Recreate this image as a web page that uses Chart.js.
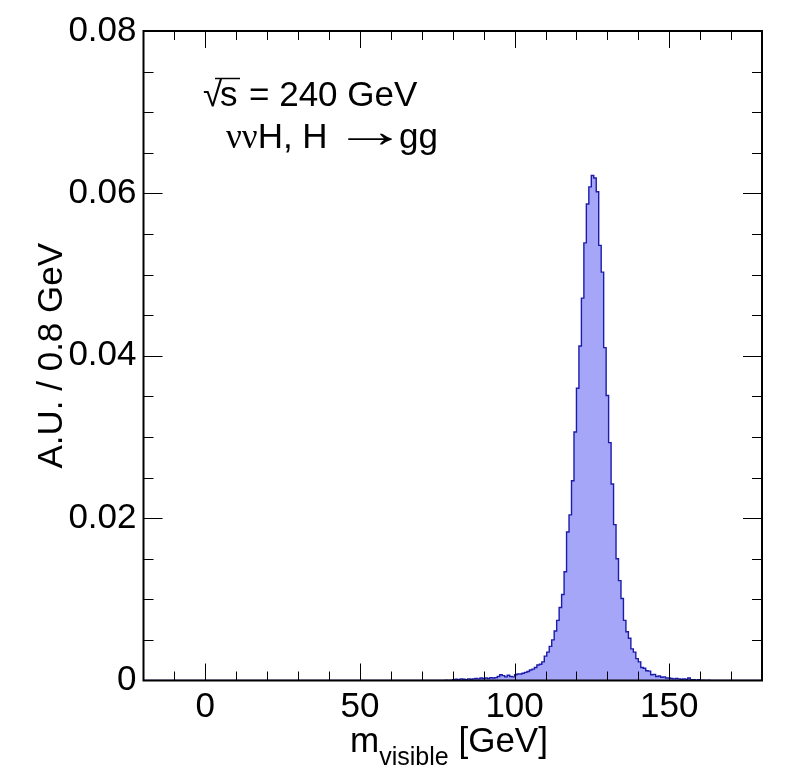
<!DOCTYPE html>
<html lang="en">
<head>
  <meta charset="UTF-8" />
  <title>m_visible - vvH, H to gg</title>
  <script src="https://cdn.jsdelivr.net/npm/chart.js"></script>
  <style>
    html, body { margin: 0; padding: 0; background: #fff; }
    #wrap { width: 798px; height: 774px; }
  </style>
</head>
<body>
  <div id="wrap"><canvas id="massChart" width="798" height="774"></canvas></div>

  <script>
    // axis ranges and ticks
    const xRange = [-20, 180];
    const yRange = [0, 0.08];
    const xTickValues = [0, 50, 100, 150];
    const xTickLabels = ["0", "50", "100", "150"];
    const yTickValues = [0, 0.02, 0.04, 0.06, 0.08];
    const yTickLabels = ["0", "0.02", "0.04", "0.06", "0.08"];

    // histogram: 0.8 GeV bins, first listed bin starts at 76.0 (empty below)
    const binWidth = 0.8;
    const firstBinLow = 76.0;
    const binContents = [
      0, 0, 0.00005, 0, 0.00005, 0.0001, 0.00015, 0.0001, 0.0002, 0.00015,           // 76.0 - 83.2
      0.0001, 0.0002, 0.00015, 0.0002, 0.00025, 0.0002, 0.0003, 0.00025, 0.0003, 0.00025, // 84.0 - 91.2
      0.00035, 0.0003, 0.00035, 0.0005, 0.0007, 0.0006, 0.00045, 0.00065, 0.0005, 0.00045, // 92.0 - 99.2
      0.0007, 0.0008, 0.0008, 0.0009, 0.0010, 0.0011, 0.0013, 0.0014, 0.0016, 0.0019, // 100.0 - 107.2
      0.0020, 0.0023, 0.0030, 0.0035, 0.0042, 0.0050, 0.0061, 0.0074, 0.0090, 0.0106, // 108.0 - 115.2
      0.0134, 0.0183, 0.0204, 0.0246, 0.0306, 0.0360, 0.0412, 0.0471, 0.0539, 0.0587, // 116.0 - 123.2
      0.0608, 0.0622, 0.0619, 0.0602, 0.0536, 0.0503, 0.0410, 0.0351, 0.0293, 0.0242, // 124.0 - 131.2
      0.0192, 0.0150, 0.0123, 0.0101, 0.0074, 0.0060, 0.0052, 0.0039, 0.0035, 0.0027, // 132.0 - 139.2
      0.0023, 0.0016, 0.0015, 0.0012, 0.00115, 0.0007, 0.00075, 0.0005, 0.00055, 0.0004, // 140.0 - 147.2
      0.00045, 0.0003, 0.0003, 0.00025, 0.0002, 0.00025, 0.0002, 0.00015, 0.0002, 0.00015, // 148.0 - 155.2
      0.0003, 0.0001, 0.0001, 0.00005, 0.0001, 0.00005, 0.00005, 0, 0.00005, 0,     // 156.0 - 163.2
      0                                                                              // 164.0
    ];

    const FONT = '"Liberation Sans", Arial, Helvetica, sans-serif';
    const SERIF = '"Liberation Serif", "Times New Roman", serif';

    // step points at each bin's low edge
    const histPoints = [{ x: xRange[0], y: 0 }];
    binContents.forEach((v, i) => {
      histPoints.push({ x: firstBinLow + i * binWidth, y: v });
    });
    histPoints.push({ x: xRange[1], y: 0 });

    // ROOT-like frame with inward ticks on all four sides, plus titles and labels
    const rootFrame = {
      id: "rootFrame",
      afterDatasetsDraw(chart) {
        const { ctx, chartArea: a, scales: { x, y } } = chart;
        ctx.save();
        ctx.strokeStyle = "#000";
        ctx.lineWidth = 1;
        ctx.beginPath();
        for (let v = xRange[0] + 10; v < xRange[1]; v += 10) {
          const px = Math.round(x.getPixelForValue(v)) + 0.5;
          const len = xTickValues.includes(v) ? 17 : 9;
          ctx.moveTo(px, a.bottom); ctx.lineTo(px, a.bottom - len);
          ctx.moveTo(px, a.top); ctx.lineTo(px, a.top + len);
        }
        for (let i = 1; i < 16; i++) {
          const py = Math.round(y.getPixelForValue(i * 0.005)) + 0.5;
          const len = i % 4 === 0 ? 19 : 10;
          ctx.moveTo(a.left, py); ctx.lineTo(a.left + len, py);
          ctx.moveTo(a.right, py); ctx.lineTo(a.right - len, py);
        }
        ctx.stroke();
        ctx.lineWidth = 2;
        ctx.strokeRect(a.left, a.top, a.right - a.left, a.bottom - a.top);
        ctx.restore();
      },
      afterDraw(chart) {
        const { ctx, chartArea: a } = chart;
        ctx.save();
        ctx.fillStyle = "#000";
        ctx.textBaseline = "alphabetic";

        // y title
        ctx.save();
        ctx.translate(62, (a.top + a.bottom) / 2);
        ctx.rotate(-Math.PI / 2);
        ctx.textAlign = "center";
        ctx.font = "35px " + FONT;
        ctx.fillText("A.U. / 0.8 GeV", 0, 0);
        ctx.restore();

        // x title: m_visible [GeV]
        ctx.textAlign = "left";
        ctx.font = "35px " + FONT;
        const wM = ctx.measureText("m").width;
        const wRest = ctx.measureText(" [GeV]").width;
        ctx.font = "25px " + FONT;
        const wSub = ctx.measureText("visible").width;
        let tx = 449 - (wM + wSub + wRest) / 2;
        ctx.font = "35px " + FONT;
        ctx.fillText("m", tx, 752);
        tx += wM;
        ctx.font = "25px " + FONT;
        ctx.fillText("visible", tx, 765);
        tx += wSub;
        ctx.font = "35px " + FONT;
        ctx.fillText(" [GeV]", tx, 752);

        // sqrt(s) = 240 GeV
        ctx.font = "35px " + FONT;
        ctx.fillText("\u221A", 203, 106);
        ctx.fillText("s", 220, 106);
        ctx.lineWidth = 1.5;
        ctx.beginPath();
        ctx.moveTo(215, 78.5); ctx.lineTo(240, 78.5);
        ctx.stroke();
        ctx.fillText("= 240 GeV", 249, 106);

        // vvH, H -> gg
        let lx = 226;
        ctx.font = "35px " + SERIF;
        ctx.fillText("\u03BD\u03BD", lx, 148);
        lx += ctx.measureText("\u03BD\u03BD").width;
        ctx.font = "35px " + FONT;
        ctx.fillText("H, H", lx, 148);
        // wide symbol-font style arrow: stretch the glyph ink to span 348..393,
        // vertically centred near y = 139
        ctx.font = "46px " + SERIF;
        const m = ctx.measureText("\u2192");
        const inkL = -m.actualBoundingBoxLeft;
        const inkW = m.actualBoundingBoxRight + m.actualBoundingBoxLeft;
        const inkMid = (m.actualBoundingBoxAscent - m.actualBoundingBoxDescent) / 2;
        const sx = 45 / inkW;
        ctx.save();
        ctx.translate(348 - inkL * sx, 139 + inkMid);
        ctx.scale(sx, 1);
        ctx.fillText("\u2192", 0, 0);
        ctx.restore();
        ctx.font = "35px " + FONT;
        ctx.fillText("gg", 399, 148);
        ctx.restore();
      }
    };

    const tickFont = { family: FONT, size: 35 };

    new Chart(document.getElementById("massChart"), {
      type: "line",
      data: {
        datasets: [{
          data: histPoints,
          stepped: "before",
          borderColor: "#1c1caa",
          borderWidth: 1.4,
          backgroundColor: "#a6a6f8",
          fill: "origin",
          pointRadius: 0,
          tension: 0
        }]
      },
      options: {
        responsive: false,
        animation: false,
        devicePixelRatio: 1,
        layout: { padding: { top: 31, right: 36, left: 0, bottom: 0 } },
        plugins: { legend: { display: false }, tooltip: { enabled: false } },
        scales: {
          x: {
            type: "linear",
            min: xRange[0],
            max: xRange[1],
            grid: { display: false, drawTicks: false },
            border: { display: false },
            afterBuildTicks: s => { s.ticks = xTickValues.map(v => ({ value: v })); },
            afterFit: s => { s.height = 93.5; },
            ticks: {
              font: tickFont,
              color: "#000",
              padding: 6,
              maxRotation: 0,
              autoSkip: false,
              callback: (v, i) => xTickLabels[i]
            }
          },
          y: {
            min: yRange[0],
            max: yRange[1],
            grid: { display: false, drawTicks: false },
            border: { display: false },
            afterBuildTicks: s => { s.ticks = yTickValues.map(v => ({ value: v })); },
            afterFit: s => { s.width = 143.5; },
            ticks: {
              font: tickFont,
              color: "#000",
              padding: 7,
              autoSkip: false,
              callback: (v, i) => yTickLabels[i]
            }
          }
        }
      },
      plugins: [rootFrame]
    });
  </script>
</body>
</html>
